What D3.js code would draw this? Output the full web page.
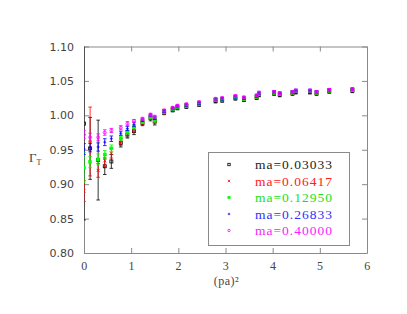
<!DOCTYPE html>
<html>
<head>
<meta charset="utf-8">
<script src="https://cdn.jsdelivr.net/npm/d3@7"></script>
<style>
  html, body { margin: 0; padding: 0; background: #fff; }
  svg { display: block; }
</style>
</head>
<body>
<div id="chart"></div>
<script>
// (pa)^2 values shared by every mass
const pSq = [0, 0.13, 0.30, 0.44, 0.58, 0.78, 0.92, 1.06, 1.24, 1.41, 1.50, 1.70, 1.88, 1.98, 2.17,
             2.44, 2.79, 2.93, 3.21, 3.39, 3.66, 3.71, 4.03, 4.15, 4.42, 4.49, 4.79, 4.93, 5.20, 5.69];

const gamma03033 = [0.988, 0.952, 0.935, 0.926, 0.933, 0.960, 0.972, 0.977, 0.989, 0.996, 0.991, 1.004, 1.008, 1.011, 1.013,
                    1.016, 1.021, 1.022, 1.025, 1.023, 1.026, 1.030, 1.032, 1.030, 1.032, 1.034, 1.034, 1.032, 1.035, 1.036];
const err03033   = [0.140, 0.045, 0.058, 0.012, 0.010, 0.006, 0.005, 0.005, 0.004, 0.004, 0.005, 0.003, 0.003, 0.003, 0.003,
                    0.003, 0.003, 0.003, 0.003, 0.003, 0.003, 0.003, 0.003, 0.003, 0.003, 0.003, 0.003, 0.003, 0.003, 0.003];

const gamma06417 = [0.890, 0.962, 0.920, 0.934, 0.945, 0.961, 0.972, 0.980, 0.990, 0.997, 0.992, 1.005, 1.008, 1.011, 1.014,
                    1.017, 1.022, 1.023, 1.026, 1.024, 1.027, 1.031, 1.033, 1.031, 1.033, 1.035, 1.035, 1.033, 1.036, 1.037];
const err06417   = [0.015, 0.050, 0.010, 0.008, 0.007, 0.005, 0.004, 0.004, 0.003, 0.003, 0.003, 0.003, 0.002, 0.002, 0.002,
                    0.002, 0.002, 0.002, 0.002, 0.002, 0.002, 0.002, 0.002, 0.002, 0.002, 0.002, 0.002, 0.002, 0.002, 0.002];

const gamma12950 = [0.924, 0.932, 0.936, 0.943, 0.952, 0.967, 0.976, 0.983, 0.991, 0.998, 0.993, 1.005, 1.009, 1.012, 1.014,
                    1.017, 1.022, 1.023, 1.026, 1.024, 1.027, 1.031, 1.033, 1.031, 1.033, 1.035, 1.035, 1.033, 1.036, 1.037];
const err12950   = [0.022, 0.008, 0.008, 0.006, 0.005, 0.004, 0.003, 0.003, 0.003, 0.003, 0.003, 0.002, 0.002, 0.002, 0.002,
                    0.002, 0.002, 0.002, 0.002, 0.002, 0.002, 0.002, 0.002, 0.002, 0.002, 0.002, 0.002, 0.002, 0.002, 0.002];

const gamma26833 = [0.951, 0.953, 0.954, 0.961, 0.966, 0.974, 0.981, 0.987, 0.993, 1.000, 0.996, 1.006, 1.010, 1.013, 1.015,
                    1.018, 1.023, 1.024, 1.027, 1.025, 1.028, 1.032, 1.034, 1.032, 1.034, 1.036, 1.036, 1.034, 1.037, 1.038];
const err26833   = [0.008, 0.006, 0.006, 0.005, 0.004, 0.003, 0.003, 0.003, 0.002, 0.002, 0.002, 0.002, 0.002, 0.002, 0.002,
                    0.002, 0.002, 0.002, 0.002, 0.002, 0.002, 0.002, 0.002, 0.002, 0.002, 0.002, 0.002, 0.002, 0.002, 0.002];

const gamma40000 = [0.972, 0.968, 0.968, 0.975, 0.978, 0.982, 0.988, 0.992, 0.995, 1.001, 0.998, 1.007, 1.011, 1.014, 1.016,
                    1.019, 1.024, 1.025, 1.028, 1.026, 1.029, 1.033, 1.034, 1.032, 1.034, 1.036, 1.036, 1.034, 1.037, 1.038];
const err40000   = [0.006, 0.006, 0.005, 0.004, 0.003, 0.003, 0.003, 0.002, 0.002, 0.002, 0.002, 0.002, 0.002, 0.002, 0.002,
                    0.002, 0.002, 0.002, 0.002, 0.002, 0.002, 0.002, 0.002, 0.002, 0.002, 0.002, 0.002, 0.002, 0.002, 0.002];

const seriesLabels = ["ma=0.03033", "ma=0.06417", "ma=0.12950", "ma=0.26833", "ma=0.40000"];
const seriesColors = ["#000000", "#ff0000", "#00ff00", "#0000ff", "#ff00ff"];
const textColors   = ["#222222", "#ff2020", "#20e020", "#3030ff", "#ff20ff"];
const seriesShapes = ["square", "cross", "filled", "plus", "circle"];
const xTicks = [0, 1, 2, 3, 4, 5, 6];
const yTicks = [0.80, 0.85, 0.90, 0.95, 1.00, 1.05, 1.10];

const series = [
  { values: gamma03033, errs: err03033 },
  { values: gamma06417, errs: err06417 },
  { values: gamma12950, errs: err12950 },
  { values: gamma26833, errs: err26833 },
  { values: gamma40000, errs: err40000 }
].map((s, i) => ({ label: seriesLabels[i], color: seriesColors[i], text: textColors[i], shape: seriesShapes[i],
                   points: pSq.map((p, j) => ({ x: p, y: s.values[j], e: s.errs[j] })) }));

const width = 407, height = 314;
const margin = { top: 46.5, right: 40, bottom: 61, left: 84 };
const frame = "#8a8a8a";
const serif = "'Liberation Serif', 'Times New Roman', serif";

const svg = d3.select('#chart').append('svg').attr('width', width).attr('height', height);

const x = d3.scaleLinear().domain([0, 6]).range([margin.left, width - margin.right]);
const y = d3.scaleLinear().domain([0.8, 1.1]).range([height - margin.bottom, margin.top]);

svg.append('clipPath').attr('id', 'plotClip').append('rect')
   .attr('x', margin.left).attr('y', margin.top)
   .attr('width', x(6) - x(0)).attr('height', y(0.8) - y(1.1));

// frame axes with inward ticks
const styleAxis = g => {
  g.select('.domain').attr('stroke', frame);
  g.selectAll('.tick line').attr('stroke', frame);
};
svg.append('g').attr('transform', `translate(0,${y(0.8)})`)
   .call(d3.axisBottom(x).tickValues(xTicks).tickFormat(d3.format('d')).tickSize(-5).tickSizeOuter(0).tickPadding(8))
   .call(styleAxis)
   .call(g => g.selectAll('text').attr('fill', '#444').style('font-family', serif).style('font-size', '12px')
                .style('letter-spacing', '0.5px'));
svg.append('g').attr('transform', `translate(0,${y(1.1)})`)
   .call(d3.axisTop(x).tickValues(xTicks).tickFormat('').tickSize(-5).tickSizeOuter(0))
   .call(styleAxis);
svg.append('g').attr('transform', `translate(${x(0)},0)`)
   .call(d3.axisLeft(y).tickValues(yTicks).tickFormat(d3.format('.2f')).tickSize(-5).tickSizeOuter(0).tickPadding(10))
   .call(styleAxis)
   .call(g => g.selectAll('text').attr('fill', '#444').style('font-family', "'DejaVu Sans', sans-serif").style('font-size', '11px'));
svg.append('g').attr('transform', `translate(${x(6)},0)`)
   .call(d3.axisRight(y).tickValues(yTicks).tickFormat('').tickSize(-5).tickSizeOuter(0))
   .call(styleAxis);

// axis titles
svg.append('text').attr('x', (x(0) + x(6)) / 2 + 1).attr('y', 284.5).attr('text-anchor', 'middle')
   .style('font-family', serif).style('font-size', '12px').style('letter-spacing', '0.5px').attr('fill', '#444')
   .text('(pa)²');
const yl = svg.append('text').attr('x', 29).attr('y', 162)
   .style('font-family', serif).style('font-size', '13px').attr('fill', '#444');
yl.append('tspan').text('Γ');
yl.append('tspan').attr('dy', 3).style('font-size', '8px').text('T');

function drawMarker(g, shape, color, cx, cy, s) {
  if (shape === 'square') {
    g.append('rect').attr('x', cx - s).attr('y', cy - s).attr('width', 2 * s).attr('height', 2 * s)
     .attr('fill', 'none').attr('stroke', color).attr('stroke-width', 0.8);
  } else if (shape === 'cross') {
    g.append('path').attr('d', `M${cx - s},${cy - s}L${cx + s},${cy + s}M${cx - s},${cy + s}L${cx + s},${cy - s}`)
     .attr('stroke', color).attr('stroke-width', 0.8);
  } else if (shape === 'filled') {
    g.append('rect').attr('x', cx - s).attr('y', cy - s).attr('width', 2 * s).attr('height', 2 * s)
     .attr('fill', color).attr('stroke', color).attr('stroke-width', 0.5);
  } else if (shape === 'plus') {
    g.append('path').attr('d', `M${cx - s},${cy}L${cx + s},${cy}M${cx},${cy - s}L${cx},${cy + s}`)
     .attr('stroke', color).attr('stroke-width', 0.8);
  } else {
    g.append('circle').attr('cx', cx).attr('cy', cy).attr('r', s)
     .attr('fill', 'none').attr('stroke', color).attr('stroke-width', 0.8);
  }
}

const plot = svg.append('g').attr('clip-path', 'url(#plotClip)');
series.forEach(s => {
  const g = plot.append('g');
  s.points.forEach(d => {
    const cx = x(d.x), y1 = y(d.y + d.e), y2 = y(d.y - d.e);
    g.append('line').attr('x1', cx).attr('x2', cx).attr('y1', y1).attr('y2', y2)
     .attr('stroke', s.color).attr('stroke-width', 0.8);
    [y1, y2].forEach(yy => g.append('line').attr('x1', cx - 1.8).attr('x2', cx + 1.8).attr('y1', yy).attr('y2', yy)
     .attr('stroke', s.color).attr('stroke-width', 0.8));
    drawMarker(g, s.shape, s.color, cx, y(d.y), 1.5);
  });
});

// legend
const leg = svg.append('g');
leg.append('rect').attr('x', 208.5).attr('y', 152.5).attr('width', 141).attr('height', 93)
   .attr('fill', '#fff').attr('stroke', frame);
series.forEach((s, i) => {
  const ly = 164.5 + i * 16.5;
  drawMarker(leg, s.shape, s.color, 229, ly, 1.2);
  leg.append('text').attr('x', 255).attr('y', ly + 4.5)
     .style('font-family', serif).style('font-size', '13.5px').style('letter-spacing', '1px').attr('fill', s.text)
     .text(s.label);
});
</script>
</body>
</html>
